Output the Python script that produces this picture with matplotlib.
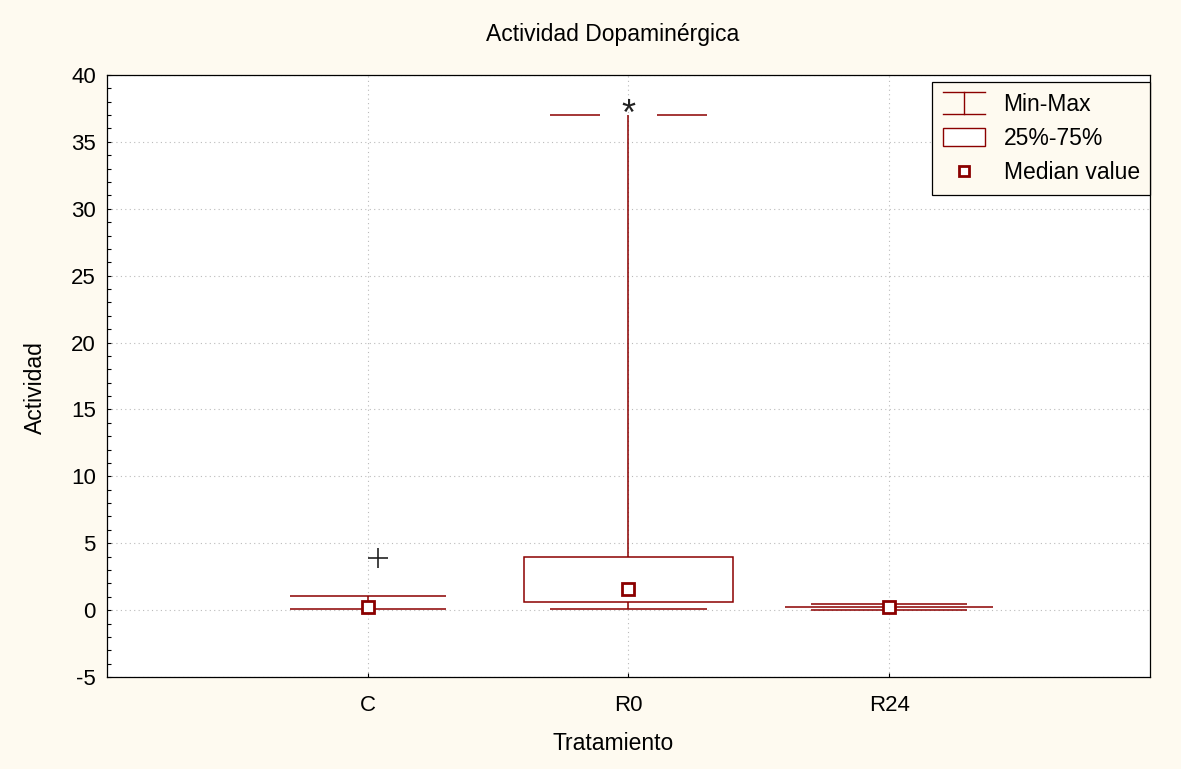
import numpy as np
import matplotlib.pyplot as plt
from matplotlib.legend_handler import HandlerBase
from matplotlib.lines import Line2D
from matplotlib.patches import Rectangle

plt.rcParams['font.family'] = ['Liberation Sans', 'DejaVu Sans']
plt.rcParams['axes.unicode_minus'] = False

# datos
grupos = ['C', 'R0', 'R24']
minimos = [0.1, 0.1, 0.02]
maximos = [1.05, 37.0, 0.45]
q25 = [np.nan, 0.6, 0.22]
q75 = [np.nan, 4.0, 0.26]
medianas = [0.25, 1.55, 0.22]
atipicos = [3.9, np.nan, np.nan]
extremos = [np.nan, 37.0, np.nan]

rojo = '#8B0000'
crema = '#FEFAF0'
pos = np.arange(1, len(grupos) + 1)
ancho_caja = 0.4
ancho_bigote = 0.3
fs = 16.5


class HandlerMinMax(HandlerBase):
    def create_artists(self, legend, orig_handle, xdescent, ydescent,
                       width, height, fontsize, trans):
        x0, x1 = -xdescent, -xdescent + width
        y0, y1 = -ydescent - 0.1 * height, -ydescent + 1.1 * height
        xm = (x0 + x1) / 2
        lineas = [Line2D([x0, x1], [y0, y0]), Line2D([x0, x1], [y1, y1]),
                  Line2D([xm, xm], [y0, y1])]
        for l in lineas:
            l.set_color(rojo)
            l.set_linewidth(1.0)
            l.set_transform(trans)
        return lineas


fig = plt.figure(figsize=(11.81, 7.69), dpi=100, facecolor=crema)
ax = fig.add_axes([0.0906, 0.1196, 0.8831, 0.7829])
ax.set_facecolor('white')

for i, p in enumerate(pos):
    lo, hi = minimos[i], maximos[i]
    if np.isnan(q25[i]):
        ax.vlines(p, lo, hi, color=rojo, lw=1.1, zorder=2)
    else:
        ax.vlines(p, lo, q25[i], color=rojo, lw=1.1, zorder=2)
        ax.vlines(p, q75[i], hi, color=rojo, lw=1.1, zorder=2)
        ax.add_patch(Rectangle((p - ancho_caja, q25[i]), 2 * ancho_caja,
                               q75[i] - q25[i], facecolor='white',
                               edgecolor=rojo, lw=1.1, zorder=2))
    ax.hlines(lo, p - ancho_bigote, p + ancho_bigote, color=rojo, lw=1.1, zorder=3)
    if not np.isnan(extremos[i]):
        # tapa partida alrededor del asterisco
        ax.hlines([hi, hi], [p - ancho_bigote, p + 0.11], [p - 0.11, p + ancho_bigote],
                  color=rojo, lw=1.1, zorder=3)
        ax.text(p, extremos[i], '*', ha='center', va='center',
                fontsize=26, color='#222222', zorder=4)
    else:
        ax.hlines(hi, p - ancho_bigote, p + ancho_bigote, color=rojo, lw=1.1, zorder=3)
    if not np.isnan(atipicos[i]):
        ax.plot(p + 0.04, atipicos[i], marker='+', ms=14, mew=1.2,
                color='#222222', zorder=4)

ax.plot(pos, medianas, ls='none', marker='s', ms=8, mfc='white',
        mec=rojo, mew=2, zorder=5)

ax.set_xlim(0, 4)
ax.set_ylim(-5, 40)
ax.set_xticks(pos)
ax.set_xticklabels(grupos)
ax.set_yticks(np.arange(-5, 41, 5))
ax.set_yticks(np.arange(-5, 41, 1), minor=True)
ax.tick_params(axis='both', which='both', direction='in', labelsize=16,
               length=3, width=0.8)
ax.tick_params(axis='x', pad=13)
ax.tick_params(axis='y', pad=8)
ax.grid(True, which='major', ls=(0, (1, 3)), color='#BBBBBB', lw=0.8)
for s in ax.spines.values():
    s.set_linewidth(0.9)

fig.text(613 / 1181, 1 - 35 / 769, 'Actividad Dopaminérgica', fontsize=fs,
         ha='center', va='center')
ax.set_xlabel('Tratamiento', fontsize=fs)
ax.xaxis.set_label_coords(0.485, -0.111)
ax.xaxis.label.set_va('center')
ax.set_ylabel('Actividad', fontsize=fs)
ax.yaxis.set_label_coords(-0.069, 0.48)
ax.yaxis.label.set_va('center')
ax.yaxis.label.set_ha('center')

h_minmax = Line2D([], [], color=rojo)
h_caja = Rectangle((0, 0), 1, 1, facecolor='white', edgecolor=rojo, lw=1)
h_med = Line2D([], [], ls='none', marker='s', ms=7, mfc='white', mec=rojo, mew=2)
leg = ax.legend([h_minmax, h_caja, h_med], ['Min-Max', '25%-75%', 'Median value'],
                handler_map={h_minmax: HandlerMinMax()},
                loc='upper right', bbox_to_anchor=(1.0, 0.988), borderaxespad=0,
                fontsize=fs, fancybox=False, framealpha=1, facecolor=crema,
                edgecolor='black', handlelength=1.85, handleheight=0.85,
                labelspacing=0.5, handletextpad=0.8, borderpad=0.45)
leg.get_frame().set_linewidth(0.9)

fig.savefig('out.png', dpi=100, facecolor=crema)
